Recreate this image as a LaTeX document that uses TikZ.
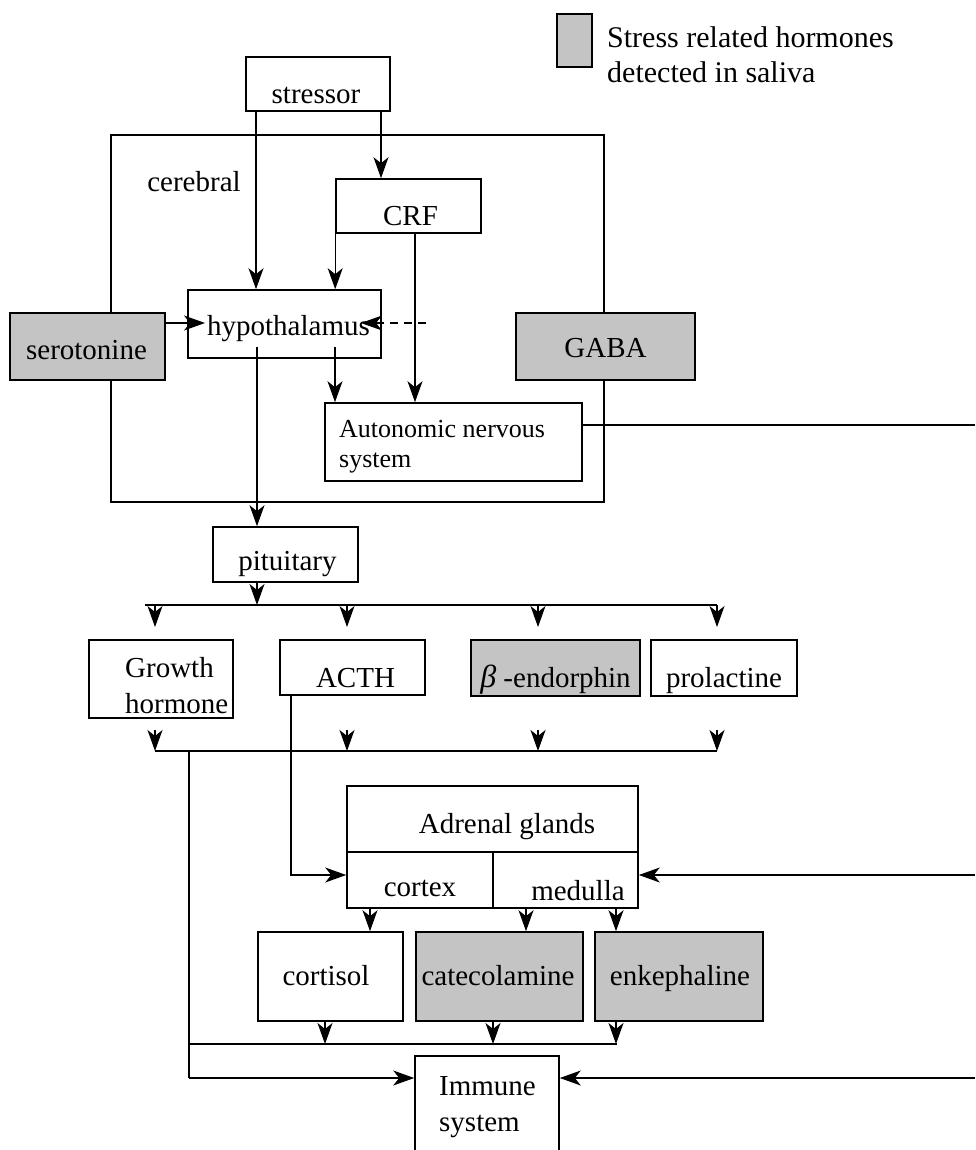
\documentclass[tikz,border=0pt]{standalone}
\usepackage{fontspec}
\setmainfont{Liberation Serif}
\usetikzlibrary{arrows.meta}
\definecolor{shade}{gray}{0.77}
% \boxtxt{dx}{baseline offset below centre}{text}
\newcommand\boxtxt[3]{\raisebox{-#2}[0pt][0pt]{\makebox[0pt]{\hspace*{#1}\hspace*{#1}#3}}}
\begin{document}
\begin{tikzpicture}[x=1pt,y=-1pt,
  every node/.style={font=\fontsize{29}{35}\selectfont},
  box/.style={draw, line width=1.6pt, inner sep=0pt},
  gbox/.style={box, fill=shade},
  txt/.style={inner sep=0pt},
  conn/.style={line width=1.2pt},
  arr/.style={conn, -{Stealth[length=21pt,width=15pt,inset=6pt]}}]
\useasboundingbox (0,0) rectangle (975,1150);

% legend
\node[gbox, minimum width=35pt, minimum height=53pt] (leg) at (574.5,40.5) {};
\node[txt, anchor=base west, font=\fontsize{30}{35}\selectfont] (leg1) at (607,48) {Stress related hormones};
\node[txt, anchor=base west, font=\fontsize{30}{35}\selectfont] (leg2) at (607,83) {detected in saliva};

% cerebral region
\node[box, minimum width=493pt, minimum height=367pt] (cereb) at (357.5,318.5) {};
\node[txt, anchor=base] (cerebT) at (194,192) {cerebral};

% top
\node[box, fill=white, minimum width=144pt, minimum height=54pt] (stressor) at (318,84) {\boxtxt{-2pt}{20pt}{stressor}};
\node[box, minimum width=145pt, minimum height=54pt] (crf) at (408.5,206) {\boxtxt{2pt}{20pt}{CRF}};
\node[box, minimum width=193pt, minimum height=68pt] (hyp) at (284.5,324) {\boxtxt{4pt}{11pt}{hypothalamus}};
\node[gbox, minimum width=155pt, minimum height=67pt] (sero) at (87.5,346.5) {\boxtxt{-1pt}{12.5pt}{serotonine}};
\node[gbox, minimum width=179pt, minimum height=67pt] (gaba) at (605.5,346.5) {\boxtxt{0pt}{10.5pt}{GABA}};
\node[box, minimum width=257pt, minimum height=78pt] (ans) at (453.5,442) {};
\node[txt, anchor=base west, font=\fontsize{26}{31}\selectfont] (ans1) at (339,437) {Autonomic nervous};
\node[txt, anchor=base west, font=\fontsize{26}{31}\selectfont] (ans2) at (339,467) {system};

% pituitary and hormones
\node[box, minimum width=145pt, minimum height=55pt] (pit) at (285.5,554.5) {\boxtxt{2pt}{15.5pt}{pituitary}};
\node[box, minimum width=144pt, minimum height=78pt] (gh) at (161,679) {};
\node[txt, anchor=base west] (gh1) at (125,677) {Growth};
\node[txt, anchor=base west] (gh2) at (125,713) {hormone};
\node[box, minimum width=145pt, minimum height=55pt] (acth) at (352.5,667.5) {\boxtxt{3pt}{19.5pt}{ACTH}};
\node[gbox, minimum width=169pt, minimum height=56pt] (beta) at (555.5,668) {\boxtxt{0pt}{19pt}{{\fontsize{32}{35}\selectfont\itshape β} -endorphin}};
\node[box, minimum width=146pt, minimum height=56pt] (prl) at (724,668) {\boxtxt{0pt}{19pt}{prolactine}};

% adrenal
\node[box, minimum width=291pt, minimum height=66pt] (adr) at (492.5,819) {\boxtxt{14.5pt}{14pt}{Adrenal glands}};
\node[box, minimum width=146pt, minimum height=56pt] (cortex) at (420,880) {\boxtxt{0pt}{16pt}{cortex}};
\node[box, minimum width=145pt, minimum height=56pt] (medulla) at (565.5,880) {\boxtxt{12.5pt}{20pt}{medulla}};
\node[box, minimum width=145pt, minimum height=89pt] (cortisol) at (330.5,976.5) {\boxtxt{-4.5pt}{8.5pt}{cortisol}};
\node[gbox, minimum width=167pt, minimum height=89pt] (cate) at (499.5,976.5) {\boxtxt{-1.5pt}{8.5pt}{catecolamine}};
\node[gbox, minimum width=168pt, minimum height=89pt] (enk) at (679,976.5) {\boxtxt{1pt}{8.5pt}{enkephaline}};
\node[box, minimum width=144pt, minimum height=100pt] (imm) at (487,1106) {};
\node[txt, anchor=base west] (imm1) at (439,1095) {Immune};
\node[txt, anchor=base west] (imm2) at (439,1131) {system};

% helper coordinates
\coordinate (x256) at (256,0);
\coordinate (x381) at (381,0);
\coordinate (x415) at (415,0);
\coordinate (x257) at (257,0);
\coordinate (x335) at (335,0);
\coordinate (y323) at (0,323);
\coordinate (hypIn) at (205,323);
\coordinate (dashS) at (426,323);
\coordinate (hypR) at (361,323);
\coordinate (hypO1) at (257,347);
\coordinate (hypO2) at (335,347);
\coordinate (rA) at (975,425);
\coordinate (rB) at (975,875);
\coordinate (rC) at (975,1078);
\coordinate (brL) at (145,605);
\coordinate (brR) at (717,605);
\coordinate (b2L) at (155,751);
\coordinate (b2R) at (717,751);
\coordinate (lc) at (189,751);
\coordinate (lcB) at (189,1078);
\coordinate (lcM) at (189,1044);
\coordinate (mR) at (617,1044);
\coordinate (acthB) at (291,875);

% connectors top
\draw[arr] (stressor.south -| x256) -- (hyp.north -| x256);
\draw[arr] (stressor.south -| x381) -- (crf.north -| x381);
\draw[arr] (crf.south west) -- (hyp.north -| crf.west);
\draw[arr] (crf.south -| x415) -- (ans.north -| x415);
\draw[arr] (sero.east |- y323) -- (hypIn);
\draw[arr, dash pattern=on 8pt off 6pt] (dashS) -- (hypR);
\draw[arr] (hypO1) -- (pit.north -| x257);
\draw[arr] (hypO2) -- (ans.north -| x335);
\draw[conn] (ans.east |- rA) -- (rA);

% pituitary branches
\draw[arr] (pit.south -| x257) -- (x257 |- brL);
\draw[conn] (brL) -- (brR);
\foreach \xx/\nm in {155/a,347/b,538/c,717/d}{
  \coordinate (t\nm) at (\xx,605);
  \coordinate (u\nm) at (\xx,627);
  \coordinate (v\nm) at (\xx,730);
  \coordinate (w\nm) at (\xx,751);
  \draw[arr] (t\nm) -- (u\nm);
  \draw[arr] (v\nm) -- (w\nm);
}
\draw[conn] (b2L) -- (b2R);
\draw[conn] (lc) -- (lcB);
\draw[arr] (lcB) -- (imm.west |- lcB);
\draw[conn] (lcM) -- (mR);
\draw[arr] (acth.south -| acthB) -- (acthB) -- (cortex.west |- acthB);
\draw[arr] (rB) -- (medulla.east |- rB);
\draw[arr] (rC) -- (imm.east |- rC);

% adrenal outputs
\coordinate (x370) at (370,0);
\coordinate (x526) at (526,0);
\coordinate (x616) at (616,0);
\draw[arr] (cortex.south -| x370) -- (cortisol.north -| x370);
\draw[arr] (medulla.south -| x526) -- (cate.north -| x526);
\draw[arr] (medulla.south -| x616) -- (enk.north -| x616);
\coordinate (x325) at (325,0);
\coordinate (x493) at (493,0);
\draw[arr] (cortisol.south -| x325) -- (x325 |- mR);
\draw[arr] (cate.south -| x493) -- (x493 |- mR);
\draw[arr] (enk.south -| x616) -- (x616 |- mR);
\end{tikzpicture}
\end{document}
